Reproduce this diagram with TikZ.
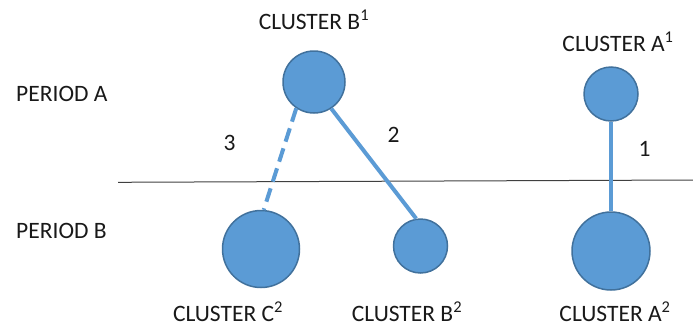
\documentclass[tikz,border=0pt]{standalone}
\usepackage{fontspec}
\setmainfont{Carlito}
\definecolor{cfill}{HTML}{5B9BD5}
\definecolor{cedge}{HTML}{41719C}
\begin{document}
\begin{tikzpicture}[x=1pt,y=-1pt,
  cluster/.style={circle,fill=cfill,draw=cedge,line width=1.5pt,inner sep=0pt,minimum size=#1},
  conn/.style={draw=cfill,line width=4pt},
  dconn/.style={conn,dash pattern=on 14pt off 7pt},
  lbl/.style={inner sep=0pt,font=\fontsize{23.5}{28}\selectfont,text=black!90}]
\useasboundingbox (0,0) rectangle (693,327);
% divider
\coordinate (L0) at (118,182.3);
\coordinate (L1) at (693,180);
\draw[line width=1pt,black!75] (L0) -- (L1);
% clusters
\node[cluster=62pt] (B1) at (314,82) {};
\node[cluster=54pt] (A1) at (611,94) {};
\node[cluster=77pt] (C2) at (261,249) {};
\node[cluster=54pt] (B2) at (420.5,246) {};
\node[cluster=78pt] (A2) at (611,251) {};
% connectors
\draw[dconn] (B1.236) -- (C2.86);
\draw[conn] (B1.303) -- (B2.99);
\draw[conn] (A1.south) -- (A2.north);
% labels
\node[lbl,anchor=base] (tB1) at (314,29.3) {CLUSTER B\textsuperscript{1}};
\node[lbl,anchor=base] (tA1) at (618,51.7) {CLUSTER A\textsuperscript{1}};
\node[lbl,anchor=base west] (pA) at (16,101.7) {PERIOD A};
\node[lbl,anchor=base west] (pB) at (16,238) {PERIOD B};
\node[lbl,anchor=base] (n3) at (229.5,150.7) {3};
\node[lbl,anchor=base] (n2) at (393.5,142.7) {2};
\node[lbl,anchor=base] (n1) at (644.5,156.7) {1};
\node[lbl,anchor=base] (tC2) at (228,321.6) {CLUSTER C\textsuperscript{2}};
\node[lbl,anchor=base] (tB2) at (407,321.6) {CLUSTER B\textsuperscript{2}};
\node[lbl,anchor=base] (tA2) at (615,321.6) {CLUSTER A\textsuperscript{2}};
\end{tikzpicture}
\end{document}
